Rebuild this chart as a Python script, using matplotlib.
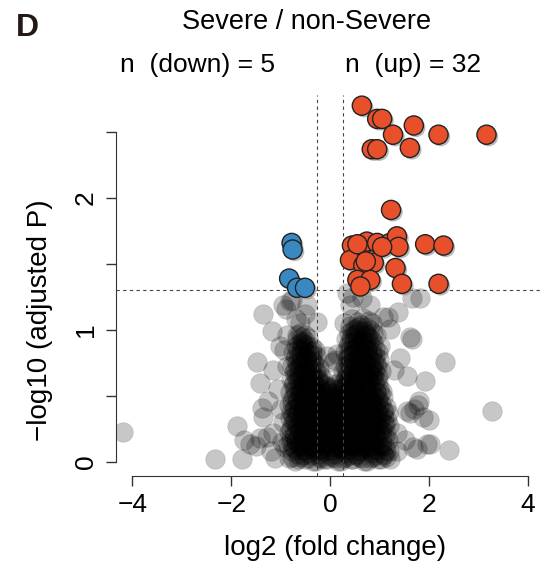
import matplotlib
matplotlib.use("Agg")
import matplotlib.pyplot as plt
import matplotlib.patheffects as pe

plt.rcParams['font.family'] = ['Liberation Sans', 'DejaVu Sans']

# significant hits: log2 fold change and -log10 adjusted p
up_logfc = [0.64, 0.95, 1.05, 1.69, 1.27, 2.19, 3.16, 0.84, 0.95, 1.61, 1.23,
            0.44, 0.65, 0.74, 0.95, 1.21, 1.35, 1.38, 1.92, 2.29, 0.40, 0.67,
            0.88, 1.32, 0.55, 0.81, 0.61, 1.45, 2.19, 0.55, 1.05, 0.72]
up_logp = [2.70, 2.60, 2.60, 2.55, 2.48, 2.48, 2.48, 2.37, 2.37, 2.38, 1.91,
           1.64, 1.64, 1.67, 1.66, 1.66, 1.71, 1.63, 1.65, 1.64, 1.53, 1.49,
           1.51, 1.47, 1.38, 1.38, 1.33, 1.35, 1.35, 1.65, 1.63, 1.52]

down_logfc = [-0.78, -0.76, -0.83, -0.67, -0.51]
down_logp = [1.66, 1.61, 1.39, 1.32, 1.32]

# everything else (not significant)
ns_points = [
    # far outliers
    (-4.18, 0.23), (-2.33, 0.02), (-1.79, 0.02), (-1.89, 0.27), (-1.75, 0.17),
    (-1.62, 0.14), (-1.50, 0.12), (-1.42, 0.18), (-1.28, 0.19), (-1.15, 0.22),
    (-1.11, 0.03), (-0.91, 0.11), (-1.35, 1.12), (-1.18, 0.99), (-1.48, 0.76),
    (-1.42, 0.60), (-1.38, 0.41), (-1.36, 0.34), (-1.25, 0.46), (-1.15, 0.70),
    (-1.05, 0.55), (-1.00, 0.40), (-0.96, 1.19), (-0.90, 1.16), (-0.82, 1.22),
    (-0.78, 1.23), (-0.61, 1.05), (-0.47, 1.19), (-0.50, 1.12), (-0.70, 1.08),
    (-1.02, 0.88), (-0.95, 0.30), (-0.97, 0.15), (-1.20, 0.08), (-0.94, 0.85),
    (-0.88, 0.96), (-0.67, 0.96), (-0.54, 0.90), (-0.37, 0.84), (-0.88, 0.73),
    (-0.07, 0.80), (0.06, 0.76), (0.34, 1.28), (0.40, 1.19), (-0.27, 1.06),
    (1.38, 1.14), (1.65, 1.24), (1.82, 1.24), (1.62, 0.95), (1.65, 0.93),
    (2.33, 0.76), (1.92, 0.61), (1.55, 0.65), (1.79, 0.46), (1.62, 0.37),
    (1.99, 0.32), (1.70, 0.40), (1.52, 0.17), (2.02, 0.14), (2.40, 0.09),
    (1.76, 0.10), (1.35, 0.22), (1.42, 0.79), (1.28, 0.70), (1.17, 1.10),
    (1.07, 1.10), (0.81, 1.19), (0.64, 1.24), (0.47, 1.25), (1.21, 1.01),
    (0.13, 0.82), (0.10, 0.77), (0.27, 1.05), (3.27, 0.39), (1.55, 0.39),
    (1.78, 0.43), (1.88, 0.34), (1.68, 0.11), (1.96, 0.14), (1.35, 0.08),
    (1.21, 0.02),
    # dense centre
    (-0.83, 0.03), (-0.72, 0.01), (-0.61, 0.04), (-0.50, 0.02), (-0.39, 0.05),
    (-0.29, 0.01), (-0.18, 0.03), (-0.07, 0.02), (0.04, 0.04), (0.15, 0.01),
    (0.26, 0.03), (0.37, 0.05), (0.47, 0.02), (0.58, 0.04), (0.69, 0.01),
    (0.80, 0.03), (0.91, 0.05), (1.02, 0.02), (1.13, 0.04),
    (-0.78, 0.08), (-0.66, 0.06), (-0.55, 0.09), (-0.45, 0.07), (-0.34, 0.10),
    (-0.23, 0.06), (-0.12, 0.08), (-0.02, 0.09), (0.09, 0.06), (0.20, 0.10),
    (0.31, 0.07), (0.42, 0.09), (0.52, 0.06), (0.63, 0.08), (0.74, 0.10),
    (0.85, 0.07), (0.96, 0.09), (1.07, 0.06), (1.19, 0.08),
    (-0.86, 0.13), (-0.75, 0.11), (-0.64, 0.14), (-0.53, 0.12), (-0.42, 0.15),
    (-0.31, 0.11), (-0.21, 0.13), (-0.10, 0.14), (0.01, 0.12), (0.12, 0.15),
    (0.23, 0.11), (0.34, 0.13), (0.44, 0.14), (0.55, 0.12), (0.66, 0.15),
    (0.77, 0.11), (0.88, 0.13), (0.99, 0.14), (1.10, 0.12),
    (-0.80, 0.18), (-0.69, 0.16), (-0.58, 0.19), (-0.47, 0.17), (-0.36, 0.20),
    (-0.26, 0.16), (-0.15, 0.18), (-0.04, 0.19), (0.07, 0.17), (0.18, 0.20),
    (0.28, 0.16), (0.39, 0.18), (0.50, 0.19), (0.61, 0.17), (0.72, 0.20),
    (0.83, 0.16), (0.94, 0.18), (1.05, 0.19), (1.16, 0.17),
    (-0.84, 0.23), (-0.73, 0.21), (-0.62, 0.24), (-0.51, 0.22), (-0.40, 0.25),
    (-0.30, 0.21), (-0.19, 0.23), (-0.08, 0.24), (0.03, 0.22), (0.14, 0.25),
    (0.24, 0.21), (0.35, 0.23), (0.46, 0.24), (0.57, 0.22), (0.68, 0.25),
    (0.79, 0.21), (0.90, 0.23), (1.01, 0.24), (1.12, 0.22),
    (-0.77, 0.28), (-0.66, 0.26), (-0.55, 0.29), (-0.44, 0.27), (-0.33, 0.30),
    (-0.23, 0.26), (-0.12, 0.28), (-0.01, 0.29), (0.10, 0.27), (0.21, 0.30),
    (0.31, 0.26), (0.42, 0.28), (0.53, 0.29), (0.64, 0.27), (0.75, 0.30),
    (0.86, 0.26), (0.97, 0.28), (1.08, 0.29), (1.19, 0.27),
    (-0.82, 0.33), (-0.71, 0.31), (-0.60, 0.34), (-0.49, 0.32), (-0.38, 0.35),
    (-0.28, 0.31), (-0.17, 0.33), (-0.06, 0.34), (0.05, 0.32), (0.16, 0.35),
    (0.26, 0.31), (0.37, 0.33), (0.48, 0.34), (0.59, 0.32), (0.70, 0.35),
    (0.81, 0.31), (0.92, 0.33), (1.03, 0.34), (1.14, 0.32),
    (-0.79, 0.38), (-0.68, 0.36), (-0.57, 0.39), (-0.46, 0.37), (-0.35, 0.40),
    (-0.25, 0.36), (-0.14, 0.38), (-0.03, 0.39), (0.08, 0.37), (0.19, 0.40),
    (0.29, 0.36), (0.40, 0.38), (0.51, 0.39), (0.62, 0.37), (0.73, 0.40),
    (0.84, 0.36), (0.95, 0.38), (1.06, 0.39), (1.17, 0.37),
    (-0.83, 0.43), (-0.72, 0.41), (-0.61, 0.44), (-0.50, 0.42), (-0.39, 0.45),
    (-0.29, 0.41), (-0.18, 0.43), (-0.07, 0.44), (0.04, 0.42), (0.15, 0.45),
    (0.25, 0.41), (0.36, 0.43), (0.47, 0.44), (0.58, 0.42), (0.69, 0.45),
    (0.80, 0.41), (0.91, 0.43), (1.02, 0.44), (1.13, 0.42),
    (-0.78, 0.48), (-0.67, 0.46), (-0.56, 0.49), (-0.45, 0.47), (-0.34, 0.50),
    (-0.24, 0.46), (-0.13, 0.48), (-0.02, 0.49), (0.09, 0.47), (0.20, 0.50),
    (0.30, 0.46), (0.41, 0.48), (0.52, 0.49), (0.63, 0.47), (0.74, 0.50),
    (0.85, 0.46), (0.96, 0.48), (1.07, 0.49),
    (-0.81, 0.53), (-0.70, 0.51), (-0.59, 0.54), (-0.48, 0.52), (-0.37, 0.55),
    (-0.27, 0.51), (-0.16, 0.53), (-0.05, 0.54), (0.06, 0.52), (0.17, 0.55),
    (0.27, 0.51), (0.38, 0.53), (0.49, 0.54), (0.60, 0.52), (0.71, 0.55),
    (0.82, 0.51), (0.93, 0.53), (1.04, 0.54),
    (-0.76, 0.58), (-0.65, 0.56), (-0.54, 0.59), (-0.43, 0.57), (-0.32, 0.60),
    (-0.22, 0.56), (-0.11, 0.58), (0.00, 0.57), (0.12, 0.59), (0.23, 0.57),
    (0.33, 0.60), (0.44, 0.56), (0.55, 0.58), (0.66, 0.59), (0.77, 0.57),
    (0.88, 0.60), (0.99, 0.56),
    (-0.79, 0.63), (-0.68, 0.61), (-0.57, 0.64), (-0.46, 0.62), (-0.35, 0.65),
    (-0.25, 0.61), (-0.14, 0.63), (0.21, 0.62), (0.31, 0.65), (0.42, 0.61),
    (0.53, 0.63), (0.64, 0.64), (0.75, 0.62), (0.86, 0.65), (0.97, 0.61),
    (-0.77, 0.04), (-0.66, 0.02), (-0.55, 0.05), (-0.44, 0.03), (-0.34, 0.01),
    (-0.23, 0.04), (-0.12, 0.02), (-0.01, 0.05), (0.10, 0.03), (0.21, 0.01),
    (0.32, 0.04), (0.42, 0.02), (0.53, 0.05), (0.64, 0.03), (0.75, 0.01),
    (0.86, 0.04), (0.97, 0.02), (1.08, 0.05),
    (-0.72, 0.10), (-0.61, 0.12), (-0.50, 0.09), (-0.40, 0.11), (-0.29, 0.08),
    (-0.18, 0.10), (-0.07, 0.12), (0.04, 0.09), (0.15, 0.11), (0.26, 0.08),
    (0.36, 0.10), (0.47, 0.12), (0.58, 0.09), (0.69, 0.11), (0.80, 0.08),
    (0.91, 0.10), (1.02, 0.12), (1.13, 0.09),
    (-0.80, 0.15), (-0.70, 0.17), (-0.59, 0.14), (-0.48, 0.16), (-0.37, 0.13),
    (-0.26, 0.15), (-0.15, 0.17), (-0.05, 0.14), (0.06, 0.16), (0.17, 0.13),
    (0.28, 0.15), (0.39, 0.17), (0.50, 0.14), (0.61, 0.16), (0.71, 0.13),
    (0.82, 0.15), (0.93, 0.17), (1.04, 0.14),
    (-0.74, 0.20), (-0.63, 0.22), (-0.52, 0.19), (-0.42, 0.21), (-0.31, 0.18),
    (-0.20, 0.20), (-0.09, 0.22), (0.02, 0.19), (0.12, 0.21), (0.23, 0.18),
    (0.34, 0.20), (0.45, 0.22), (0.56, 0.19), (0.66, 0.21), (0.77, 0.18),
    (0.88, 0.20), (0.99, 0.22), (1.10, 0.19),
    (-0.79, 0.25), (-0.68, 0.27), (-0.57, 0.24), (-0.46, 0.26), (-0.36, 0.23),
    (-0.25, 0.25), (-0.14, 0.27), (-0.03, 0.24), (0.08, 0.26), (0.18, 0.23),
    (0.29, 0.25), (0.40, 0.27), (0.51, 0.24), (0.62, 0.26), (0.72, 0.23),
    (0.83, 0.25), (0.94, 0.27), (1.05, 0.24),
    (-0.73, 0.30), (-0.62, 0.32), (-0.51, 0.29), (-0.41, 0.31), (-0.30, 0.28),
    (-0.19, 0.30), (-0.08, 0.32), (0.03, 0.29), (0.13, 0.31), (0.24, 0.28),
    (0.35, 0.30), (0.46, 0.32), (0.57, 0.29), (0.67, 0.31), (0.78, 0.28),
    (0.89, 0.30), (1.00, 0.32), (1.11, 0.29),
    (-0.76, 0.35), (-0.65, 0.37), (-0.54, 0.34), (-0.44, 0.36), (-0.33, 0.33),
    (-0.22, 0.35), (-0.11, 0.37), (0.00, 0.34), (0.10, 0.36), (0.21, 0.33),
    (0.32, 0.35), (0.43, 0.37), (0.54, 0.34), (0.64, 0.36), (0.75, 0.33),
    (0.86, 0.35), (0.97, 0.37), (1.08, 0.34),
    (-0.74, 0.40), (-0.63, 0.42), (-0.53, 0.39), (-0.42, 0.41), (-0.31, 0.38),
    (-0.20, 0.40), (-0.10, 0.42), (0.01, 0.39), (0.12, 0.41), (0.23, 0.38),
    (0.34, 0.40), (0.44, 0.42), (0.55, 0.39), (0.66, 0.41), (0.77, 0.38),
    (0.88, 0.40), (0.98, 0.42), (1.09, 0.39),
    (-0.77, 0.45), (-0.66, 0.47), (-0.55, 0.44), (-0.44, 0.46), (-0.34, 0.43),
    (-0.23, 0.45), (-0.12, 0.47), (-0.01, 0.44), (0.09, 0.46), (0.20, 0.43),
    (0.31, 0.45), (0.42, 0.47), (0.53, 0.44), (0.63, 0.46), (0.74, 0.43),
    (0.85, 0.45), (0.96, 0.47),
    (-0.73, 0.50), (-0.62, 0.52), (-0.52, 0.49), (-0.41, 0.51), (-0.30, 0.48),
    (-0.19, 0.50), (-0.08, 0.52), (0.02, 0.49), (0.13, 0.51), (0.24, 0.48),
    (0.35, 0.50), (0.46, 0.52), (0.56, 0.49), (0.67, 0.51), (0.78, 0.48),
    (0.89, 0.50), (1.00, 0.52),
    (-0.71, 0.55), (-0.60, 0.57), (-0.49, 0.54), (-0.38, 0.56), (-0.28, 0.53),
    (-0.17, 0.55), (-0.06, 0.57), (0.06, 0.55), (0.17, 0.53), (0.28, 0.56),
    (0.39, 0.54), (0.50, 0.57), (0.61, 0.55), (0.72, 0.53), (0.82, 0.56),
    (0.93, 0.54),
    (-0.74, 0.60), (-0.63, 0.62), (-0.52, 0.59), (-0.41, 0.61), (-0.30, 0.58),
    (-0.19, 0.60), (0.26, 0.60), (0.37, 0.62), (0.48, 0.59), (0.59, 0.61),
    (0.70, 0.58), (0.81, 0.60), (0.92, 0.62),
    # left and right lobes
    (-0.74, 0.68), (-0.63, 0.66), (-0.52, 0.69), (-0.41, 0.67), (-0.30, 0.70),
    (-0.20, 0.66), (0.26, 0.68), (0.36, 0.66), (0.47, 0.69), (0.58, 0.67),
    (0.69, 0.70), (0.80, 0.66), (0.91, 0.68), (1.02, 0.69),
    (-0.77, 0.73), (-0.66, 0.71), (-0.55, 0.74), (-0.44, 0.72), (-0.33, 0.75),
    (-0.23, 0.71), (0.29, 0.73), (0.40, 0.71), (0.51, 0.74), (0.62, 0.72),
    (0.73, 0.75), (0.84, 0.71), (0.95, 0.73),
    (-0.72, 0.78), (-0.61, 0.76), (-0.50, 0.79), (-0.39, 0.77), (-0.28, 0.80),
    (0.33, 0.78), (0.44, 0.76), (0.55, 0.79), (0.66, 0.77), (0.77, 0.80),
    (0.88, 0.76), (0.99, 0.78),
    (-0.75, 0.83), (-0.64, 0.81), (-0.53, 0.84), (-0.42, 0.82), (-0.31, 0.85),
    (0.30, 0.83), (0.41, 0.81), (0.52, 0.84), (0.63, 0.82), (0.74, 0.85),
    (0.85, 0.81), (0.96, 0.83),
    (-0.70, 0.88), (-0.59, 0.86), (-0.48, 0.89), (-0.37, 0.87), (0.35, 0.88),
    (0.46, 0.86), (0.57, 0.89), (0.68, 0.87), (0.79, 0.90), (0.90, 0.86),
    (1.01, 0.88),
    (-0.67, 0.93), (-0.56, 0.91), (-0.45, 0.94), (0.32, 0.93), (0.43, 0.91),
    (0.54, 0.94), (0.65, 0.92), (0.76, 0.95), (0.87, 0.91),
    (-0.62, 0.98), (-0.51, 0.96), (0.37, 0.98), (0.48, 0.96), (0.59, 0.99),
    (0.70, 0.97), (0.81, 1.00), (0.92, 0.96),
    (0.40, 1.03), (0.51, 1.01), (0.62, 1.04), (0.73, 1.02), (0.84, 1.05),
    (0.45, 1.08), (0.56, 1.06), (0.67, 1.09), (0.78, 1.07),
    (-0.69, 0.65), (-0.58, 0.67), (-0.47, 0.64), (-0.36, 0.66), (-0.25, 0.63),
    (0.31, 0.64), (0.42, 0.66), (0.53, 0.65), (0.64, 0.67), (0.75, 0.64),
    (0.86, 0.66), (0.97, 0.65),
    (-0.72, 0.70), (-0.61, 0.72), (-0.50, 0.69), (-0.39, 0.71), (-0.28, 0.68),
    (0.34, 0.70), (0.45, 0.72), (0.56, 0.69), (0.67, 0.71), (0.78, 0.68),
    (0.89, 0.70),
    (-0.67, 0.75), (-0.56, 0.77), (-0.45, 0.74), (-0.34, 0.76), (0.38, 0.75),
    (0.49, 0.77), (0.60, 0.74), (0.71, 0.76), (0.82, 0.73), (0.93, 0.75),
    (-0.70, 0.80), (-0.59, 0.82), (-0.48, 0.79), (-0.37, 0.81), (0.36, 0.80),
    (0.47, 0.82), (0.58, 0.79), (0.69, 0.81), (0.80, 0.78), (0.91, 0.80),
    (-0.65, 0.85), (-0.54, 0.87), (-0.43, 0.84), (0.41, 0.85), (0.52, 0.87),
    (0.63, 0.84), (0.74, 0.86), (0.85, 0.83),
    (-0.62, 0.90), (-0.51, 0.92), (0.38, 0.90), (0.49, 0.92), (0.60, 0.89),
    (0.71, 0.91), (0.82, 0.93),
    (-0.57, 0.95), (0.42, 0.95), (0.53, 0.97), (0.64, 0.94), (0.75, 0.96),
    (0.86, 0.98),
    (0.46, 1.00), (0.57, 1.02), (0.68, 0.99),
]
ns_logfc = [p[0] for p in ns_points]
ns_logp = [p[1] for p in ns_points]

p_cutoff = 1.30      # -log10(0.05)
fc_cutoff = 0.263    # log2(1.2)

x_ticks = [-4, -2, 0, 2, 4]
y_ticks = [0, 0.5, 1, 1.5, 2, 2.5]
y_ticklabels = ['0', '', '1', '', '2', '']

fig = plt.figure(figsize=(5.48, 5.71), dpi=100)
ax = fig.add_axes([0.2117, 0.1664, 0.779, 0.667])

ax.scatter(ns_logfc, ns_logp, s=200, facecolor=(0, 0, 0, 0.22),
           edgecolor=(0, 0, 0, 0.12), linewidth=0.6, zorder=2)

shadow = [pe.SimplePatchShadow(offset=(1.5, -1.5), shadow_rgbFace='0.55', alpha=0.6),
          pe.Normal()]
ax.scatter(up_logfc, up_logp, s=190, facecolor='#e8502b', edgecolor='#222222',
           linewidth=1.0, zorder=4, path_effects=shadow)
ax.scatter(down_logfc, down_logp, s=190, facecolor='#3a88c2', edgecolor='#222222',
           linewidth=1.0, zorder=4, path_effects=shadow)

ax.axhline(p_cutoff, color='#444444', lw=0.8, ls=(0, (3, 3)), zorder=3)
ax.axvline(-fc_cutoff, color='#444444', lw=0.8, ls=(0, (3, 3)), zorder=3)
ax.axvline(fc_cutoff, color='#444444', lw=0.8, ls=(0, (3, 3)), zorder=3)

ax.set_xlim(-4.33, 4.3)
ax.set_ylim(-0.106, 2.78)

for side in ['top', 'right']:
    ax.spines[side].set_visible(False)
ax.spines['left'].set_bounds(0, 2.5)
ax.spines['bottom'].set_bounds(-4, 4)
ax.spines['left'].set_color('#333333')
ax.spines['bottom'].set_color('#333333')

ax.set_xticks(x_ticks)
ax.set_xticklabels([str(t).replace('-', '\u2212') for t in x_ticks])
ax.set_yticks(y_ticks)
ax.set_yticklabels(y_ticklabels, rotation=90, va='center')
ax.tick_params(axis='both', labelsize=19, length=7, width=1, color='#333333')
ax.tick_params(axis='x', pad=5)
ax.tick_params(axis='y', pad=6)

fig.text(335 / 548, 1 - 548 / 571, 'log2 (fold change)', fontsize=20,
         ha='center', va='center')
fig.text(40 / 548, 1 - 320 / 571, '\u2212log10 (adjusted P)', fontsize=20,
         ha='center', va='center', rotation=90)

fig.text(307 / 548, 1 - 22 / 571, 'Severe / non-Severe', fontsize=19.5,
         ha='center', va='center')
fig.text(197 / 548, 1 - 65 / 571, 'n  (down) = 5', fontsize=19,
         ha='center', va='center')
fig.text(413 / 548, 1 - 65 / 571, 'n  (up) = 32', fontsize=19,
         ha='center', va='center')
fig.text(27 / 548, 1 - 28 / 571, 'D', fontsize=23, fontweight='bold',
         ha='center', va='center', color='#231815')

fig.savefig('out.png', dpi=100)
